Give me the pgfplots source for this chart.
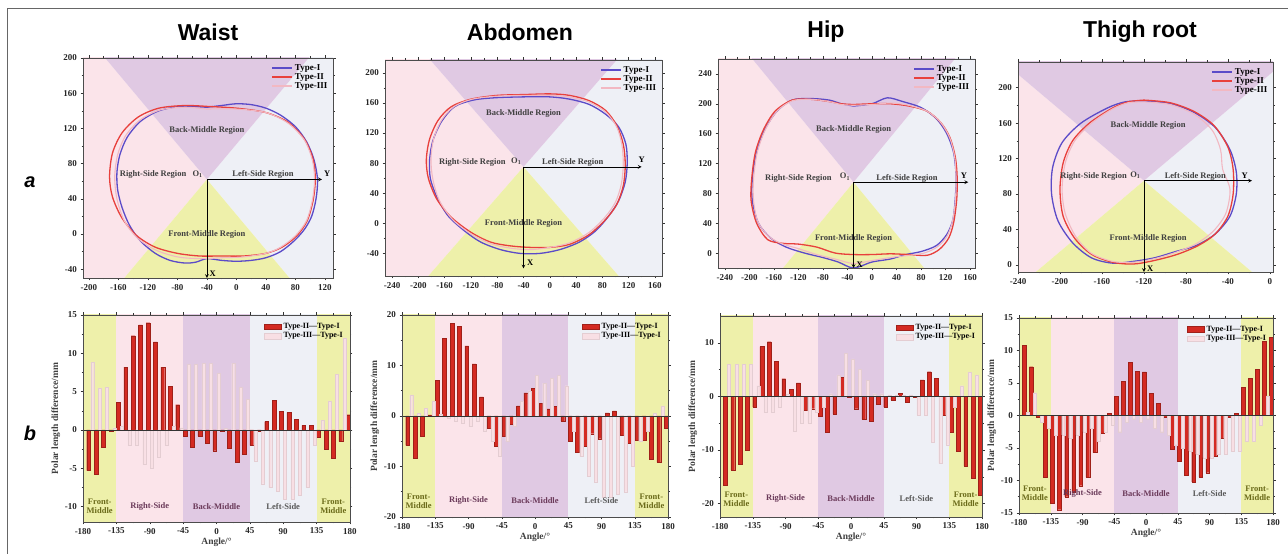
\documentclass[border=0pt]{standalone}
\usepackage{pgfplots}
\pgfplotsset{compat=1.18}
\usepackage{pgfplotstable}
\usepackage{fontspec}
\setmainfont{Liberation Serif}
\newfontfamily\arialfont{Liberation Sans}
\definecolor{tI}{HTML}{5B4BC8}
\definecolor{tII}{HTML}{E8403C}
\definecolor{tIII}{HTML}{F2B8C2}
\definecolor{bgP}{HTML}{E0C9E3}
\definecolor{bgK}{HTML}{FBE4EA}
\definecolor{bgG}{HTML}{EEF0F6}
\definecolor{bgY}{HTML}{EEF0AA}
\definecolor{barR}{HTML}{D42A22}
\definecolor{barP}{HTML}{F8DFE4}
\definecolor{lblP}{HTML}{6B3A5A}
\definecolor{lblY}{HTML}{6B6B1A}

\pgfplotstableread{
a r p
-170 -5.3 8.8
-160 -5.8 5.5
-150 -2.3 5.6
-140 -0.1 0.3
-130 3.6 0.5
-120 8.2 -2.0
-110 12.3 -2.0
-100 13.7 -4.5
-90 14.0 -5.0
-80 11.5 -3.5
-70 8.2 -2.0
-60 5.7 0.5
-50 3.3 0.3
-40 -0.8 8.6
-30 -2.3 8.6
-20 -0.8 8.7
-10 -1.7 8.7
0 -2.7 7.4
10 -0.1 0.2
20 -2.4 8.7
30 -4.2 5.6
40 -3.2 4.0
50 -2.0 -4.0
60 -0.1 -7.0
70 1.1 -7.5
80 3.9 -8.0
90 2.4 -9.0
100 2.3 -9.0
110 1.4 -8.5
120 0.6 -7.5
130 0.6 -2.0
140 -0.9 1.3
150 -2.5 3.8
160 -3.7 7.3
170 -1.5 12.0
180 2.0 8.0
}\waistB

\pgfplotstableread{
a r p
-170 -5.8 4.2
-160 -8.3 0.5
-150 -4.0 1.5
-140 0.2 3.0
-130 7.0 0.3
-120 15.4 -0.5
-110 18.3 -1.0
-100 17.8 -1.5
-90 13.9 -2.0
-80 10.3 -1.0
-70 3.8 -3.0
-60 -2.4 -5.0
-50 -6.0 -8.0
-40 -4.0 -5.0
-30 -1.7 -2.0
-20 2.0 3.0
-10 4.6 5.0
0 5.5 8.0
10 2.5 6.5
20 1.4 7.5
30 1.9 8.0
40 -1.0 6.0
50 -5.0 -3.0
60 -7.2 -8.0
70 -6.0 -12.0
80 -3.5 -13.0
90 -4.5 -16.0
100 0.6 -16.0
110 1.0 -15.5
120 -3.8 -15.0
130 -5.3 -10.0
140 -4.8 -5.0
150 -4.8 -3.0
160 -8.5 0.5
170 -9.2 2.0
180 -2.5 2.0
}\abdomenB

\pgfplotstableread{
a r p
-170 -16.5 6.0
-160 -13.7 6.0
-150 -12.7 6.0
-140 -10.0 6.0
-130 -2.0 2.0
-120 9.3 -3.0
-110 10.2 -3.0
-100 6.5 -2.0
-90 3.3 0.5
-80 1.3 -6.5
-70 2.5 -5.0
-60 -2.5 -5.0
-50 -2.3 -3.0
-40 -3.7 -2.0
-30 -6.7 0.5
-20 -3.3 4.0
-10 3.6 8.0
0 -0.1 7.0
10 -2.3 5.0
20 -4.3 3.0
30 -4.7 0.5
40 -1.5 0.5
50 -2.0 0.3
60 -0.7 0.3
70 0.6 0.3
80 -1.0 0.3
90 -0.1 -3.5
100 3.1 -3.5
110 4.6 -8.5
120 3.4 -12.5
130 -3.5 -9.0
140 -6.7 -2.0
150 -10.3 2.0
160 -13.0 4.5
170 -15.3 4.0
180 -18.5 3.0
}\hipB

\pgfplotstableread{
a r p
-170 10.8 0.5
-160 7.5 3.5
-150 -0.3 -1.0
-140 -9.5 -2.0
-130 -13.5 -3.0
-120 -14.5 -3.0
-110 -12.5 -3.5
-100 -11.8 -3.0
-90 -10.8 -2.5
-80 -9.5 -2.0
-70 -5.7 -4.0
-60 -2.7 -2.5
-50 0.3 -1.5
-40 2.9 -2.5
-30 5.3 -1.0
-20 8.2 -0.5
-10 6.8 -1.0
0 6.7 -0.5
10 3.4 -2.0
20 1.9 -2.5
30 -0.2 -3.0
40 -5.2 -4.5
50 -7.0 -5.0
60 -9.2 -5.5
70 -10.2 -6.0
80 -9.5 -6.5
90 -8.8 -6.5
100 -6.2 -6.0
110 -3.5 -6.0
120 -0.3 -5.5
130 0.3 -5.5
140 4.3 -4.0
150 5.7 -4.0
160 7.1 -1.5
170 11.4 3.0
180 12.0 1.0
}\thighB

\tikzset{reg/.style={font=\bfseries\fontsize{8.5}{9}\selectfont, text=black!75}}
\pgfplotsset{
  common/.style={
    scale only axis, anchor=south west, axis on top,
    axis line style={black!70, line width=0.6pt},
    tick style={black!80, line width=0.5pt},
    tick align=outside, minor tick num=1,
    major tick length=2.5pt, minor tick length=1.5pt,
    ticklabel style={font=\bfseries\fontsize{9}{9}\selectfont, text=black!85},
    /pgf/number format/assume math mode=true,
    clip=true,
  },
  polA/.style={common,
    legend style={draw=none, fill=none, at={(0.99,0.985)}, anchor=north east,
      font=\bfseries\fontsize{9}{9}\selectfont, row sep=-2.5pt, inner sep=1pt},
    legend cell align=left,
    legend image code/.code={\draw[##1, line width=1.4pt] (0pt,0pt) -- (20pt,0pt);},
  },
  diffB/.style={common,
    xmin=-180, xmax=180, xtick={-180,-135,...,180},
    ylabel={Polar length difference/mm}, xlabel={Angle/°},
    ylabel style={font=\bfseries\fontsize{9.5}{10}\selectfont, text=black!75, yshift=-2pt},
    xlabel style={font=\bfseries\fontsize{9.5}{10}\selectfont, text=black!75, yshift=3pt},
    legend style={draw=none, fill=none, at={(0.985,0.975)}, anchor=north east,
      font=\bfseries\fontsize{8}{8.5}\selectfont, row sep=-1.5pt, inner sep=1pt},
    legend cell align=left,
  },
  barRed/.style={ybar, bar width=3.8pt, bar shift=-1.8pt, fill=barR, draw=barR!75!black, line width=0.3pt, area legend},
  barPink/.style={ybar, bar width=3pt, bar shift=1.8pt, fill=barP, draw=barP!92!black, line width=0.2pt, area legend},
}

\newcommand{\bgB}{%
  \addplot[draw=none, fill=bgY, forget plot] coordinates {(-180,-100) (-135,-100) (-135,100) (-180,100)};
  \addplot[draw=none, fill=bgK, forget plot] coordinates {(-135,-100) (-45,-100) (-45,100) (-135,100)};
  \addplot[draw=none, fill=bgP, forget plot] coordinates {(-45,-100) (45,-100) (45,100) (-45,100)};
  \addplot[draw=none, fill=bgG, forget plot] coordinates {(45,-100) (135,-100) (135,100) (45,100)};
  \addplot[draw=none, fill=bgY, forget plot] coordinates {(135,-100) (180,-100) (180,100) (135,100)};
}
\newcommand{\labB}[1]{%
  \node[font=\bfseries\fontsize{8.5}{9}\selectfont, text=lblY, align=center] at (rel axis cs:0.0625,#1) {Front-\\Middle};
  \node[font=\bfseries\fontsize{8.5}{9}\selectfont, text=lblP] at (rel axis cs:0.25,#1) {Right-Side};
  \node[font=\bfseries\fontsize{8.5}{9}\selectfont, text=lblP] at (rel axis cs:0.5,#1) {Back-Middle};
  \node[font=\bfseries\fontsize{8.5}{9}\selectfont, text=black!65] at (rel axis cs:0.75,#1) {Left-Side};
  \node[font=\bfseries\fontsize{8.5}{9}\selectfont, text=lblY, align=center] at (rel axis cs:0.9375,#1) {Front-\\Middle};
}
% background wedges around origin (#1,#2)
\newcommand{\wedges}[2]{%
  \addplot[draw=none, fill=bgK, forget plot] coordinates {(#1,#2) (#1-600,#2+600) (#1-600,#2-600)};
  \addplot[draw=none, fill=bgG, forget plot] coordinates {(#1,#2) (#1+600,#2+600) (#1+600,#2-600)};
  \addplot[draw=none, fill=bgP, forget plot] coordinates {(#1,#2) (#1-600,#2+600) (#1+600,#2+600)};
  \addplot[draw=none, fill=bgY, forget plot] coordinates {(#1,#2) (#1-600,#2-600) (#1+600,#2-600)};
}

\begin{document}
\begin{tikzpicture}
\useasboundingbox (0pt,0pt) rectangle (1288pt,554pt);
\draw[black!60, line width=0.8pt] (7pt,0pt) -- (7pt,546pt) -- (1288pt,546pt);

% titles
\node[font=\arialfont\bfseries\fontsize{23}{23}\selectfont] at (208pt,522pt) {Waist};
\node[font=\arialfont\bfseries\fontsize{23}{23}\selectfont] at (520pt,522pt) {Abdomen};
\node[font=\arialfont\bfseries\fontsize{23}{23}\selectfont] at (826pt,522pt) {Hip};
\node[font=\arialfont\bfseries\fontsize{23}{23}\selectfont] at (1140pt,522pt) {Thigh root};
\node[font=\arialfont\bfseries\itshape\fontsize{20}{20}\selectfont] at (30pt,372pt) {a};
\node[font=\arialfont\bfseries\itshape\fontsize{20}{20}\selectfont] at (30pt,121pt) {b};

% ===== Waist a
\begin{axis}[polA, at={(83pt,276pt)}, width=250pt, height=220pt,
  xmin=-208, xmax=131, ymin=-50, ymax=200,
  xtick={-200,-160,...,120}, ytick={-40,0,...,200}]
\wedges{-40}{62}
\addplot[tI, line width=1.3pt, smooth] coordinates {(-40,144) (-20,146) (0,148) (20,147) (40,143) (60,135) (80,122) (95,105) (105,85) (110,62) (108,40) (102,20) (92,5) (78,-8) (60,-20) (40,-27) (20,-30) (0,-31) (-20,-30) (-40,-28) (-55,-32) (-70,-33) (-90,-30) (-110,-22) (-130,-8) (-145,10) (-155,30) (-161,50) (-162,70) (-158,90) (-148,110) (-130,128) (-105,140) (-75,145) (-40,144)};
\addlegendentry{Type-I}
\addplot[tII, line width=1.3pt, smooth] coordinates {(-40,145) (0,143) (40,138) (70,127) (92,108) (104,85) (107,62) (104,38) (96,15) (82,-2) (62,-15) (40,-22) (10,-25) (-20,-25) (-50,-25) (-80,-22) (-110,-15) (-135,-2) (-155,18) (-168,42) (-172,65) (-168,92) (-155,115) (-133,133) (-105,143) (-70,146) (-40,145)};
\addlegendentry{Type-II}
\addplot[tIII, line width=1.1pt, smooth] coordinates {(-40,142) (0,142) (40,138) (70,126) (92,107) (103,84) (106,62) (103,38) (95,15) (80,-2) (60,-15) (40,-22) (10,-26) (-20,-27) (-50,-28) (-80,-26) (-110,-18) (-135,-4) (-152,15) (-162,40) (-165,65) (-161,90) (-150,112) (-130,130) (-103,141) (-70,144) (-40,142)};
\addlegendentry{Type-III}
\addplot[->, >=stealth, black, line width=0.7pt, forget plot] coordinates {(-40,62) (116,62)};
\addplot[->, >=stealth, black, line width=0.7pt, forget plot] coordinates {(-40,62) (-40,-50)};
\node[reg] at (axis cs:-40,118) {Back-Middle Region};
\node[reg] at (axis cs:-113,68) {Right-Side Region};
\node[reg] at (axis cs:36,68) {Left-Side Region};
\node[reg] at (axis cs:-40,0) {Front-Middle Region};
\node[reg, anchor=south east] at (axis cs:-41,60) {O\textsubscript{1}};
\node[reg, text=black] at (axis cs:123,68) {Y};
\node[reg, text=black] at (axis cs:-32,-45) {X};
\end{axis}

% ===== Abdomen a
\begin{axis}[polA, at={(385pt,278pt)}, width=277pt, height=216pt,
  xmin=-251, xmax=171, ymin=-70, ymax=217,
  xtick={-240,-200,...,160}, ytick={-40,0,...,200}]
\wedges{-40}{75}
\addplot[tI, line width=1.3pt, smooth] coordinates {(-40,168) (0,168) (30,165) (60,158) (85,145) (105,128) (116,105) (118,80) (115,55) (105,30) (90,10) (70,-10) (45,-25) (15,-35) (-15,-40) (-45,-40) (-75,-35) (-105,-25) (-130,-10) (-155,10) (-172,35) (-182,60) (-183,85) (-178,110) (-165,135) (-145,155) (-115,164) (-80,167) (-40,168)};
\addlegendentry{Type-I}
\addplot[tII, line width=1.3pt, smooth] coordinates {(-40,171) (0,172) (30,170) (60,163) (85,150) (102,130) (112,105) (115,78) (112,50) (102,25) (85,5) (60,-15) (30,-28) (0,-32) (-30,-32) (-60,-30) (-90,-25) (-120,-12) (-150,8) (-172,32) (-185,60) (-188,85) (-183,112) (-170,137) (-150,155) (-120,165) (-80,170) (-40,171)};
\addlegendentry{Type-II}
\addplot[tIII, line width=1.1pt, smooth] coordinates {(-40,170) (0,170) (30,168) (60,161) (85,148) (102,128) (110,104) (112,78) (109,52) (100,28) (84,8) (60,-12) (30,-26) (0,-32) (-30,-35) (-60,-33) (-90,-27) (-120,-14) (-148,5) (-168,30) (-178,58) (-181,85) (-177,112) (-165,137) (-146,155) (-118,165) (-80,169) (-40,170)};
\addlegendentry{Type-III}
\addplot[->, >=stealth, black, line width=0.7pt, forget plot] coordinates {(-40,75) (140,75)};
\addplot[->, >=stealth, black, line width=0.7pt, forget plot] coordinates {(-40,75) (-40,-60)};
\node[reg] at (axis cs:-40,146) {Back-Middle Region};
\node[reg] at (axis cs:-118,81) {Right-Side Region};
\node[reg] at (axis cs:35,81) {Left-Side Region};
\node[reg] at (axis cs:-40,0) {Front-Middle Region};
\node[reg, anchor=south east] at (axis cs:-38,73) {O\textsubscript{1}};
\node[reg, text=black] at (axis cs:140,84) {Y};
\node[reg, text=black] at (axis cs:-30,-52) {X};
\end{axis}

% ===== Hip a
\begin{axis}[polA, at={(718pt,286pt)}, width=257pt, height=209pt,
  xmin=-251, xmax=168, ymin=-20, ymax=260,
  xtick={-240,-200,...,160}, ytick={0,40,...,240}]
\wedges{-30}{95}
\addplot[tI, line width=1.3pt, smooth] coordinates {(-30,197) (0,200) (25,208) (50,203) (80,195) (105,180) (122,160) (133,135) (137,105) (136,75) (132,45) (122,25) (105,10) (80,2) (55,-2) (30,-8) (0,-12) (-30,-20) (-55,-12) (-80,-6) (-110,0) (-140,8) (-165,20) (-185,40) (-195,70) (-195,100) (-188,135) (-175,165) (-155,190) (-130,205) (-100,207) (-70,205) (-50,200) (-30,197)};
\addlegendentry{Type-I}
\addplot[tII, line width=1.3pt, smooth] coordinates {(-30,199) (0,200) (30,200) (60,197) (90,190) (112,175) (127,155) (136,128) (139,100) (138,70) (133,40) (125,20) (110,5) (90,-3) (60,-2) (30,-1) (0,-2) (-30,-2) (-60,0) (-90,8) (-120,12) (-145,13) (-170,18) (-188,40) (-197,70) (-196,100) (-190,135) (-177,165) (-158,190) (-130,205) (-100,206) (-70,203) (-50,200) (-30,199)};
\addlegendentry{Type-II}
\addplot[tIII, line width=1.1pt, smooth] coordinates {(-30,198) (0,199) (30,201) (60,198) (90,190) (112,175) (127,154) (135,128) (137,100) (136,70) (131,42) (122,22) (106,8) (85,0) (60,-3) (30,-6) (0,-10) (-30,-14) (-60,-8) (-90,-2) (-120,6) (-145,12) (-168,22) (-186,42) (-193,70) (-193,100) (-187,135) (-174,165) (-155,190) (-130,204) (-100,206) (-70,203) (-50,199) (-30,198)};
\addlegendentry{Type-III}
\addplot[->, >=stealth, black, line width=0.7pt, forget plot] coordinates {(-30,95) (157,95)};
\addplot[->, >=stealth, black, line width=0.7pt, forget plot] coordinates {(-30,95) (-30,-20)};
\node[reg] at (axis cs:-30,166) {Back-Middle Region};
\node[reg] at (axis cs:-120,100) {Right-Side Region};
\node[reg] at (axis cs:57,100) {Left-Side Region};
\node[reg] at (axis cs:-30,19) {Front-Middle Region};
\node[reg, anchor=south east] at (axis cs:-30,93) {O\textsubscript{1}};
\node[reg, text=black] at (axis cs:150,103) {Y};
\node[reg, text=black] at (axis cs:-20,-16) {X};
\end{axis}

% ===== Thigh a
\begin{axis}[polA, at={(1018pt,282pt)}, width=255pt, height=210pt,
  xmin=-240, xmax=3, ymin=-8, ymax=229,
  xtick={-240,-200,...,0}, ytick={0,40,...,200}]
\wedges{-120}{95}
\addplot[tI, line width=1.3pt, smooth] coordinates {(-120,185) (-95,182) (-72,172) (-52,155) (-38,130) (-32,105) (-32,80) (-38,55) (-52,35) (-70,22) (-90,15) (-110,8) (-130,4) (-150,2) (-170,8) (-188,25) (-202,50) (-208,80) (-207,110) (-198,138) (-180,160) (-155,177) (-138,184) (-120,185)};
\addlegendentry{Type-I}
\addplot[tII, line width=1.3pt, smooth] coordinates {(-120,186) (-95,183) (-72,173) (-53,157) (-40,133) (-35,108) (-35,80) (-40,55) (-52,35) (-68,22) (-88,12) (-110,5) (-130,1) (-150,3) (-170,12) (-186,30) (-197,55) (-200,85) (-197,115) (-188,140) (-172,160) (-150,177) (-135,184) (-120,186)};
\addlegendentry{Type-II}
\addplot[tIII, line width=1.1pt, smooth] coordinates {(-120,184) (-95,181) (-72,170) (-55,152) (-47,130) (-45,108) (-38,85) (-42,58) (-54,38) (-70,24) (-90,14) (-110,7) (-130,3) (-150,4) (-170,13) (-185,32) (-195,58) (-198,85) (-195,115) (-186,140) (-170,160) (-150,176) (-135,183) (-120,184)};
\addlegendentry{Type-III}
\addplot[->, >=stealth, black, line width=0.7pt, forget plot] coordinates {(-120,95) (-17,95)};
\addplot[->, >=stealth, black, line width=0.7pt, forget plot] coordinates {(-120,95) (-120,-8)};
\node[reg] at (axis cs:-116,157) {Back-Middle Region};
\node[reg] at (axis cs:-168,100) {Right-Side Region};
\node[reg] at (axis cs:-71,100) {Left-Side Region};
\node[reg] at (axis cs:-116,30) {Front-Middle Region};
\node[reg, anchor=south east] at (axis cs:-120,93) {O\textsubscript{1}};
\node[reg, text=black] at (axis cs:-24,101) {Y};
\node[reg, text=black] at (axis cs:-114,-4) {X};
\end{axis}

% ===== Waist b
\begin{axis}[diffB, at={(83pt,32pt)}, width=267pt, height=207pt,
  ymin=-12, ymax=15, ytick={-10,-5,...,15}]
\bgB
\addplot[barRed] table[x=a,y=r] {\waistB};
\addlegendentry{Type-II—Type-I}
\addplot[barPink] table[x=a,y=p] {\waistB};
\addlegendentry{Type-III—Type-I}
\addplot[black!80, line width=0.5pt, forget plot] coordinates {(-180,0) (180,0)};
\labB{0.075}
\end{axis}

% ===== Abdomen b
\begin{axis}[diffB, at={(402pt,37pt)}, width=266pt, height=202pt,
  ymin=-20, ymax=20, ytick={-20,-10,...,20}]
\bgB
\addplot[barRed] table[x=a,y=r] {\abdomenB};
\addlegendentry{Type-II—Type-I}
\addplot[barPink] table[x=a,y=p] {\abdomenB};
\addlegendentry{Type-III—Type-I}
\addplot[black!80, line width=0.5pt, forget plot] coordinates {(-180,0) (180,0)};
\labB{0.08}
\end{axis}

% ===== Hip b
\begin{axis}[diffB, at={(720pt,37pt)}, width=262pt, height=201pt,
  ymin=-22.5, ymax=15, ytick={-20,-10,...,10}]
\bgB
\addplot[barRed] table[x=a,y=r] {\hipB};
\addlegendentry{Type-II—Type-I}
\addplot[barPink] table[x=a,y=p] {\hipB};
\addlegendentry{Type-III—Type-I}
\addplot[black!80, line width=0.5pt, forget plot] coordinates {(-180,0) (180,0)};
\labB{0.09}
\end{axis}

% ===== Thigh b
\begin{axis}[diffB, at={(1019pt,41pt)}, width=254pt, height=195pt,
  ymin=-15, ymax=15, ytick={-15,-10,...,15}]
\bgB
\addplot[barRed] table[x=a,y=r] {\thighB};
\addlegendentry{Type-II—Type-I}
\addplot[barPink] table[x=a,y=p] {\thighB};
\addlegendentry{Type-III—Type-I}
\addplot[black!80, line width=0.5pt, forget plot] coordinates {(-180,0) (180,0)};
\labB{0.1}
\end{axis}
\end{tikzpicture}
\end{document}
